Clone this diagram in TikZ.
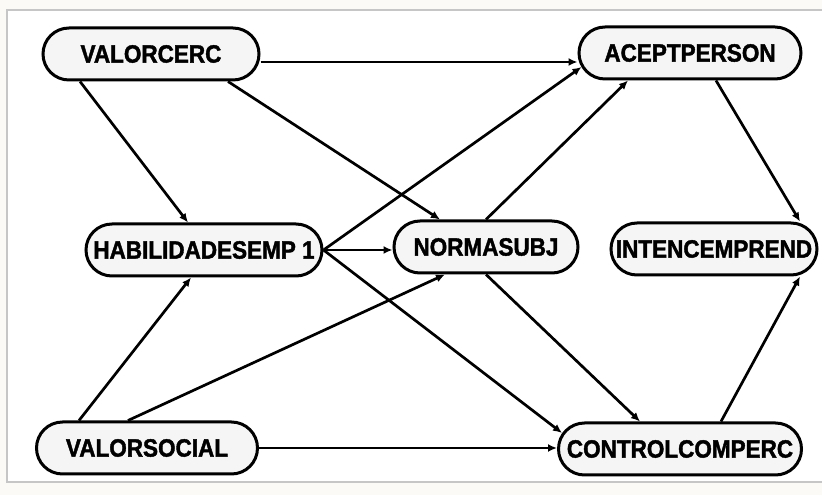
\documentclass[tikz,border=0pt]{standalone}
\usepackage{fontspec}
\newfontfamily\varfont{Liberation Sans Bold}[FakeStretch=0.9,FakeBold=1.6]
\usetikzlibrary{arrows.meta}

\definecolor{boxfill}{HTML}{F5F5F5}
\definecolor{outside}{HTML}{FBFAF7}

\tikzset{
  var/.style={draw=black,fill=boxfill,line width=3pt,rounded corners=26pt,
    minimum height=52pt,inner sep=0pt,
    font=\varfont\fontsize{25}{29}\selectfont},
  path/.style={line width=2.7pt,-{Latex[length=9pt,width=8pt]}}
}

\begin{document}
\begin{tikzpicture}[x=1pt,y=1pt]
         \useasboundingbox (0,0) rectangle (822,495) ;
         \fill[outside] (0,0) rectangle (822,495) ;
         \draw[fill=white,draw=gray!45,line width=1.2pt] (7,13) rectangle (835,485) ;
         % variables
         \node[var,minimum width=216pt] (valorcerc) at (151,441) {VALORCERC} ;
         \node[var,minimum width=222pt] (aceptperson) at (690,442) {ACEPTPERSON} ;
         \node[var,minimum width=236pt] (habilidades) at (204,245) {HABILIDADESEMP 1} ;
         \node[var,minimum width=184pt] (normasubj) at (486,248) {NORMASUBJ} ;
         \node[var,minimum width=206pt] (intencemprend) at (714,246) {INTENCEMPREND} ;
         \node[var,minimum width=221pt] (valorsocial) at (147,47) {VALORSOCIAL} ;
         \node[var,minimum width=243pt] (controlcomperc) at (680,46) {CONTROLCOMPERC} ;
         % paths from the top row
         \draw[path] ([yshift=-8pt]valorcerc.east) -- ([yshift=-8pt]valorcerc.east -| aceptperson.west) ;
         \draw[path] ([xshift=-71pt]valorcerc.south) -- ([xshift=-16pt]habilidades.north) ;
         \draw[path] ([xshift=77pt]valorcerc.south) -- ([xshift=-46pt]normasubj.north) ;
         \draw[path] ([xshift=26pt]aceptperson.south) -- ([xshift=86pt]intencemprend.north) ;
         % paths from the middle row
         \draw[path] (habilidades.east) -- ([xshift=4pt,yshift=-14pt]aceptperson.west) ;
         \draw[path] (habilidades.east) -- (habilidades.east -| normasubj.west) ;
         \draw[path] (habilidades.east) -- ([xshift=5pt,yshift=16pt]controlcomperc.west) ;
         \draw[path] (normasubj.north) -- ([xshift=-62pt]aceptperson.south) ;
         \draw[path] (normasubj.south) -- ([xshift=-40pt]controlcomperc.north) ;
         % paths from the bottom row
         \draw[path] ([xshift=-68pt]valorsocial.north) -- ([xshift=-13pt]habilidades.south) ;
         \draw[path] ([xshift=-19pt]valorsocial.north) -- ([xshift=-41pt]normasubj.south) ;
         \draw[path] (valorsocial.east) -- (valorsocial.east -| controlcomperc.west) ;
         \draw[path] ([xshift=41pt]controlcomperc.north) -- ([xshift=86pt]intencemprend.south) ;
      \end{tikzpicture}
\end{document}
